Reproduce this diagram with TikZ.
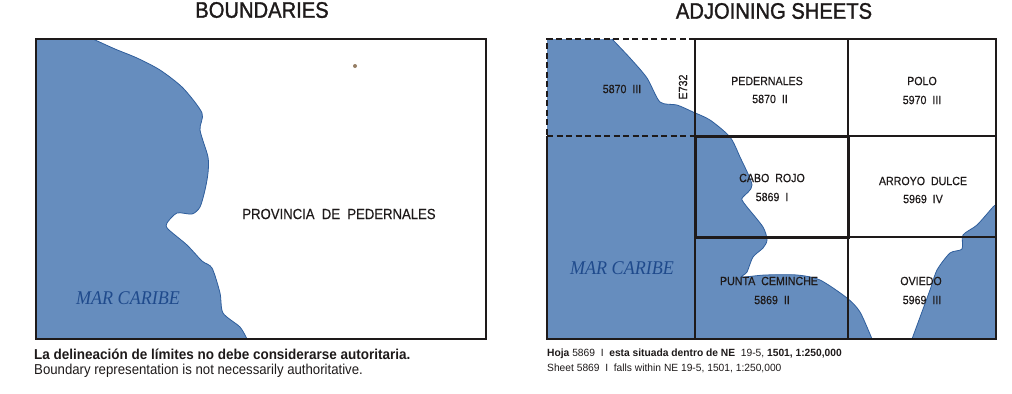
\documentclass[tikz,border=0pt]{standalone}
\usepackage{fontspec}
\setmainfont{Liberation Sans}
\newfontfamily\narrowf[FakeStretch=0.89,FakeBold=0.4]{Liberation Sans}
\newfontfamily\titlef[FakeStretch=0.9,FakeBold=1.4]{Liberation Sans}
\newfontfamily\notef[FakeStretch=0.92]{Liberation Sans}
\newfontfamily\noteboldf[FakeStretch=0.94]{Liberation Sans}
\newfontfamily\tinyf[FakeStretch=0.98]{Liberation Sans}
\newfontfamily\serifit[FakeStretch=0.93]{Liberation Serif}
\definecolor{seablue}{HTML}{668DBE}
\definecolor{coastblue}{HTML}{2F5E9C}
\definecolor{seatext}{HTML}{1F4A8C}
\definecolor{inkdark}{HTML}{1E1A1A}
\tikzset{
  coast/.style={draw=coastblue,line width=0.8bp},
  frame/.style={draw=inkdark,line width=1.2bp},
  grid/.style={draw=inkdark,line width=1.1bp},
  dashline/.style={draw=inkdark,line width=1.2bp,dash pattern=on 6bp off 3.5bp},
  bold/.style={draw=inkdark,line width=3bp},
  heading/.style={text=inkdark,inner sep=0pt,font=\titlef\fontsize{22.5}{26}\selectfont},
  sheetlabel/.style={text=inkdark,inner sep=0pt,font=\narrowf\fontsize{12}{14}\selectfont},
  provlabel/.style={text=inkdark,inner sep=0pt,font=\narrowf\fontsize{14.8}{17}\selectfont},
  sealabel/.style={text=seatext,inner sep=0pt,font=\serifit\itshape\fontsize{19.5}{23}\selectfont},
  notelabel/.style={text=inkdark,inner sep=0pt,anchor=west,font=\notef\fontsize{14.4}{17}\selectfont},
  smalllabel/.style={text=inkdark,inner sep=0pt,anchor=west,font=\tinyf\fontsize{10.5}{12}\selectfont},
}
\begin{document}
\begin{tikzpicture}[x=1bp,y=-1bp]
\path[use as bounding box,fill=white] (0,0) rectangle (1012,393);
% left map
\fill[seablue] (36,39) -- (93,39) -- plot[smooth,tension=0.45] coordinates {(93,39) (115,49) (137,58) (160,70) (183,88) (202,113) (200,130) (208,157) (208,173) (205,190) (200,207) (192,214) (177,213) (167,223) (168,229) (187,245) (202,261) (212,268) (220,293) (223,313) (240,327) (247,339)} -- (36,339) -- cycle;
\draw[coast] plot[smooth,tension=0.45] coordinates {(93,39) (115,49) (137,58) (160,70) (183,88) (202,113) (200,130) (208,157) (208,173) (205,190) (200,207) (192,214) (177,213) (167,223) (168,229) (187,245) (202,261) (212,268) (220,293) (223,313) (240,327) (247,339)};
\draw[frame] (36,39) rectangle (486,339);
\fill[black!45!brown!70!white] (355,66) circle (2);
% right map
\fill[seablue] (547,39) -- (612,39) -- plot[smooth,tension=0.45] coordinates {(612,39) (630,58) (647,78) (660,102) (677,105) (693,112) (710,120) (730,137) (740,157) (752,185) (743,197) (742,200) (747,207) (763,227) (767,240) (763,248) (753,257) (747,272) (742,277) (765,275) (797,275) (820,280) (847,298) (860,312) (872,339)} -- (547,339) -- cycle;
\draw[coast] plot[smooth,tension=0.45] coordinates {(612,39) (630,58) (647,78) (660,102) (677,105) (693,112) (710,120) (730,137) (740,157) (752,185) (743,197) (742,200) (747,207) (763,227) (767,240) (763,248) (753,257) (747,272) (742,277) (765,275) (797,275) (820,280) (847,298) (860,312) (872,339)};
\fill[seablue] (912,339) -- plot[smooth,tension=0.45] coordinates {(912,339) (930,290) (937,270) (950,253) (962,249) (963,235) (977,225) (993,207) (996,205)} -- (996,339) -- cycle;
\draw[coast] plot[smooth,tension=0.45] coordinates {(912,339) (930,290) (937,270) (950,253) (962,249) (963,235) (977,225) (993,207) (996,205)};
% grid
\draw[grid] (695,39) -- (996,39) -- (996,339) -- (547,339) -- (547,136);
\draw[dashline] (695,39) -- (547,39) -- (547,136);
\draw[dashline] (547,136) -- (695,136);
\draw[grid] (695,39) -- (695,339);
\draw[grid] (848,39) -- (848,339);
\draw[grid] (695,136) -- (996,136);
\draw[grid] (695,237) -- (996,237);
\draw[bold] (695,136) rectangle (848,237);
% titles
\node[heading] (t1) at (262,10) {BOUNDARIES};
\node[heading] (t2) at (774,11) {ADJOINING SHEETS};
% left labels
\node[provlabel] (prov) at (339,214) {PROVINCIA\ \ DE\ \ PEDERNALES};
\node[sealabel] (sea1) at (128,298) {MAR CARIBE};
\node[sealabel] (sea2) at (622,268) {MAR CARIBE};
\node[notelabel,font=\noteboldf\bfseries\fontsize{14.4}{17}\selectfont] (n1) at (34,354) {La delineación de límites no debe considerarse autoritaria.};
\node[notelabel] (n2) at (34,371) {Boundary representation is not necessarily authoritative.};
% sheet labels
\node[sheetlabel] (s1) at (622,89) {5870\ \ III};
\node[sheetlabel,rotate=90] (e) at (683,87) {E732};
\node[sheetlabel] (a1) at (767,81) {PEDERNALES};
\node[sheetlabel] (a2) at (770,99) {5870\ \ II};
\node[sheetlabel] (b1) at (922,81) {POLO};
\node[sheetlabel] (b2) at (922,100) {5970\ \ III};
\node[sheetlabel] (c1) at (772,178) {CABO\ \ ROJO};
\node[sheetlabel] (c2) at (772,197) {5869\ \ I};
\node[sheetlabel] (d1) at (923,181) {ARROYO\ \ DULCE};
\node[sheetlabel] (d2) at (923,199) {5969\ \ IV};
\node[sheetlabel] (f1) at (769,281) {PUNTA\ \ CEMINCHE};
\node[sheetlabel] (f2) at (772,300) {5869\ \ II};
\node[sheetlabel] (g1) at (921,281) {OVIEDO};
\node[sheetlabel] (g2) at (922,300) {5969\ \ III};
% sheet notes
\node[smalllabel,font=\tinyf\bfseries\fontsize{10.5}{12}\selectfont] (h1) at (547,354) {Hoja {\mdseries 5869\ \ I}\ \ esta situada dentro de NE\ \ {\mdseries 19-5,} 1501, 1:250,000};
\node[smalllabel] (h2) at (547,368) {Sheet 5869\ \ I\ \ falls within NE\ 19-5, 1501, 1:250,000};
\end{tikzpicture}
\end{document}
